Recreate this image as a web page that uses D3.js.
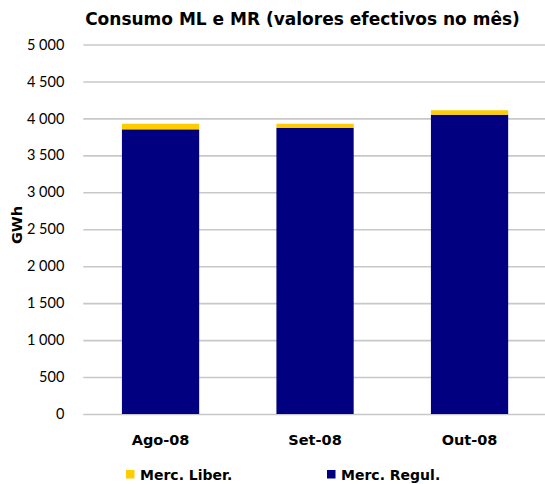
<!DOCTYPE html>
<html>
<head>
<meta charset="utf-8">
<script src="https://cdn.jsdelivr.net/npm/d3@7"></script>
<style>
  html, body { margin: 0; padding: 0; background: #fff; }
  svg { display: block; font-family: Lato, "Open Sans", sans-serif; }
  .bold { font-family: "DejaVu Sans", sans-serif; font-weight: 700; }
</style>
</head>
<body>
<svg id="chart" width="545" height="484"></svg>
<script>
// Monthly consumption, GWh
const months = ["Ago-08", "Set-08", "Out-08"];
const mercRegul = [3852, 3874, 4050];   // regulated market
const mercLiber = [76, 54, 60];         // liberalised market
const yTicks = [0, 500, 1000, 1500, 2000, 2500, 3000, 3500, 4000, 4500, 5000];
const seriesNames = ["Merc. Liber.", "Merc. Regul."];
const seriesColors = ["#FFCC00", "#000080"];

const svg = d3.select("#chart");
const plot = { left: 83.3, right: 546.8, top: 44.5, bottom: 414 };

const x = d3.scaleBand().domain(months).range([plot.left, plot.right]).paddingInner(0.5).paddingOuter(0.25);
const y = d3.scaleLinear().domain([0, 5000]).range([plot.bottom, plot.top]);

const fmt = v => d3.format(",")(v).replace(/,/g, " ");

// gridlines and y labels
const yAxis = d3.axisLeft(y).tickValues(yTicks).tickFormat(fmt)
  .tickSize(-(plot.right - plot.left)).tickPadding(19);
const gy = svg.append("g").attr("transform", `translate(${plot.left},0)`).call(yAxis);
gy.select(".domain").remove();
gy.selectAll(".tick line").attr("stroke", "#c8c8c8").attr("stroke-width", 1.6);
gy.selectAll(".tick text").attr("fill", "#000").style("font-size", "14.5px").style("font-family", "Lato, sans-serif");

// stacked bars
const stackData = months.map((m, i) => ({ month: m, regul: mercRegul[i], liber: mercLiber[i] }));
const stack = d3.stack().keys(["regul", "liber"])(stackData);
const colorOf = { regul: "#000080", liber: "#FFCC00" };

svg.append("g").selectAll("g").data(stack).join("g")
  .attr("fill", d => colorOf[d.key])
  .selectAll("rect").data(d => d).join("rect")
  .attr("x", d => x(d.data.month))
  .attr("width", x.bandwidth())
  .attr("y", d => y(d[1]))
  .attr("height", d => y(d[0]) - y(d[1]));

// x labels
const xAxis = d3.axisBottom(x).tickSize(0).tickPadding(21);
const gx = svg.append("g").attr("transform", `translate(0,${plot.bottom})`).call(xAxis);
gx.select(".domain").remove();
gx.selectAll(".tick text").attr("class", "bold").attr("fill", "#000").style("font-size", "14.5px");

// title
svg.append("text").attr("class", "bold").attr("x", 302.5).attr("y", 25).attr("text-anchor", "middle")
  .style("font-size", "17px")
  .text("Consumo ML e MR (valores efectivos no mês)");

// y axis title
svg.append("text").attr("class", "bold").attr("transform", "translate(22,225) rotate(-90)").attr("text-anchor", "middle")
  .style("font-size", "14.5px").text("GWh");

// legend
const legendX = [126, 327];
const lg = svg.append("g").selectAll("g").data(seriesNames).join("g")
  .attr("transform", (d, i) => `translate(${legendX[i]},470)`);
lg.append("rect").attr("width", 8.5).attr("height", 8.5).attr("fill", (d, i) => seriesColors[i]);
lg.append("text").attr("class", "bold").attr("x", 14).attr("y", 10).style("font-size", "14px").text(d => d);
</script>
</body>
</html>
